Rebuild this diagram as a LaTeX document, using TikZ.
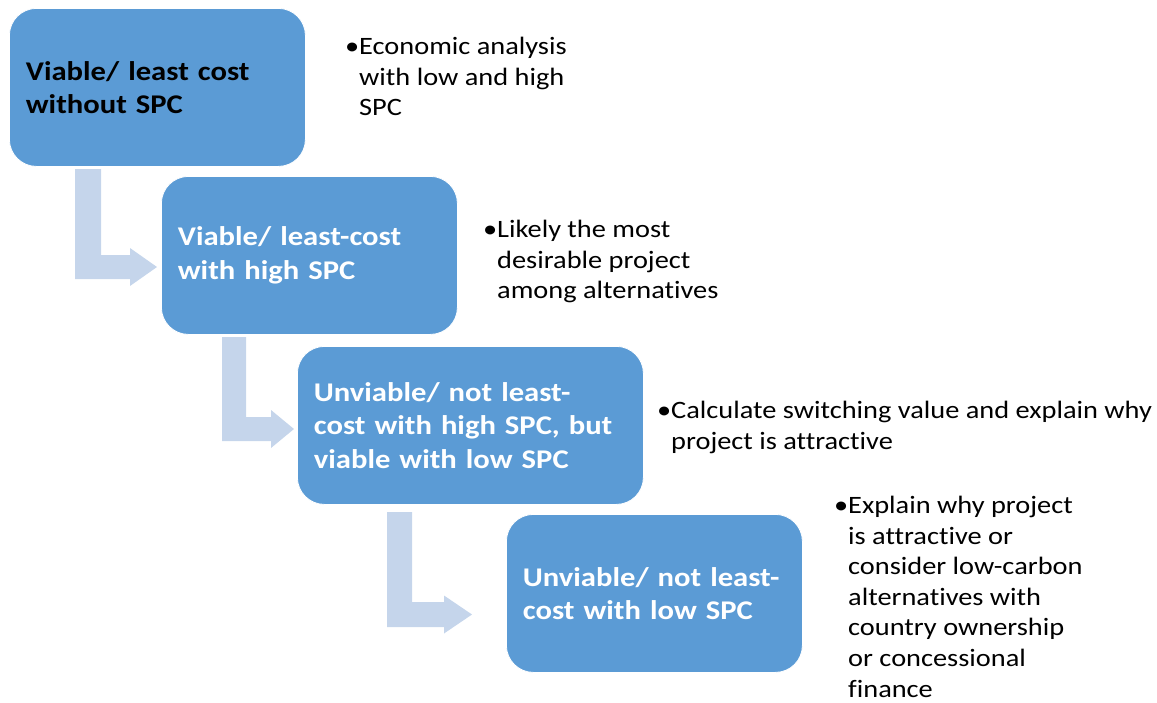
\documentclass[tikz,border=0pt]{standalone}
\usepackage{fontspec}
\setmainfont{Carlito}[FakeStretch=1.135, Ligatures={TeX,NoCommon}]
\definecolor{boxblue}{HTML}{5B9BD5}
\definecolor{arrowblue}{HTML}{C5D5EB}
\tikzset{
  stage/.style={draw=white, line width=0.8pt, fill=boxblue, rounded corners=27pt,
    anchor=north west, minimum height=158pt, inner xsep=16pt, align=left,
    font=\fontsize{27}{33.5}\selectfont\bfseries},
  note/.style={anchor=north west, align=left, inner sep=0pt,
    font=\fontsize{25}{30.6}\selectfont},
  bentfill/.style={fill=arrowblue, draw=none}
}
% bent arrow: #1 left x, #2 bar right x, #3 top y, #4 bar top y, #5 bar bottom y,
% #6 head base x, #7 tip x, #8 head half height
\newcommand\bentarr[8]{%
  \fill[bentfill] (#1,#3) -- (#2,#3) -- (#2,#4) -- (#6,#4) -- (#6,{(#4+#5)/2-#8})
    -- (#7,{(#4+#5)/2}) -- (#6,{(#4+#5)/2+#8}) -- (#6,#5) -- (#1,#5) -- cycle;}
\begin{document}
\begin{tikzpicture}[x=1pt,y=-1pt]
\useasboundingbox (0,0) rectangle (1157,702);

% connecting bent arrows
\bentarr{75}{101}{169}{255}{279}{130}{157}{19}
\bentarr{222}{246}{337}{417}{441}{271}{294}{19}
\bentarr{387}{412}{512}{602}{627}{444}{472}{19}

% stage boxes
\node[stage, text width=263pt, minimum width=296pt] (s1) at (9,8)
  {Viable/ least cost\\without SPC};
\node[stage, text=white, text width=263pt, minimum width=296pt] (s2) at (161,176)
  {Viable/ least-cost\\with high SPC};
\node[stage, text=white, text width=313pt, minimum width=346pt] (s3) at (297,346)
  {Unviable/ not least-\\cost with high SPC, but\\viable with low SPC};
\node[stage, text=white, text width=263pt, minimum width=296pt] (s4) at (506,514)
  {Unviable/ not least-\\cost with low SPC};

% notes
\node[note] (n1) at (359,37)
  {\llap{•}Economic analysis\\with low and high\\SPC};
\node[note] (n2) at (497,220)
  {\llap{•}Likely the most\\desirable project\\among alternatives};
\node[note] (n3) at (671,401)
  {\llap{•}Calculate switching value and explain why\\project is attractive};
\node[note] (n4) at (848,496)
  {\llap{•}Explain why project\\is attractive or\\consider low-carbon\\alternatives with\\country ownership\\or concessional\\finance};
\end{tikzpicture}
\end{document}
